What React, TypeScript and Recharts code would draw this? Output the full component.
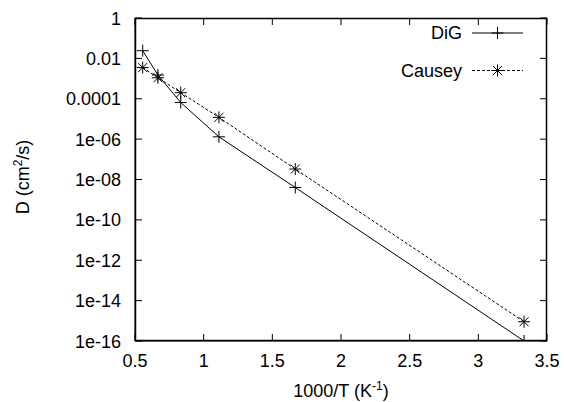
import React from "react";
import { LineChart, Line, XAxis, YAxis } from "recharts";

// 1000/T values (K^-1)
const invT = [0.556, 0.667, 0.833, 1.111, 1.667, 3.333];
// diffusivity, cm^2/s
const digD = [0.024, 1.5e-3, 6.5e-5, 1.3e-6, 4e-9, 1e-16];
const causeyD = [3.5e-3, 1.1e-3, 2e-4, 1.2e-5, 3.3e-8, 9e-16];

const xTicks = [0.5, 1, 1.5, 2, 2.5, 3, 3.5];
const yTicks = [1, 0.1, 0.01, 0.001, 0.0001, 1e-5, 1e-6, 1e-7, 1e-8, 1e-9, 1e-10, 1e-11, 1e-12, 1e-13, 1e-14, 1e-15, 1e-16];
const yTickLabels = ["1", "", "0.01", "", "0.0001", "", "1e-06", "", "1e-08", "", "1e-10", "", "1e-12", "", "1e-14", "", "1e-16"];

const data = invT.map((x, i) => ({ x, dig: digD[i], causey: causeyD[i] }));

const FONT = '"Liberation Sans", Arial, Helvetica, sans-serif';
const INK = "#000";
const FS = 18;

// chart geometry
const W = 564;
const H = 402;
const M = { top: 18, right: 17, left: 0, bottom: 0 };
const Y_AXIS_W = 135;
const X_AXIS_H = 61;
const PLOT_W = W - M.left - M.right - Y_AXIS_W;
const PLOT_H = H - M.top - M.bottom - X_AXIS_H;

const labelFor = (v: number) => {
  const i = yTicks.findIndex((t) => Math.abs(Math.log10(t) - Math.log10(v)) < 1e-6);
  return i >= 0 ? yTickLabels[i] : "";
};

// bottom tick: inward tick, mirrored tick on the top border, label
const BottomTick = (props: any) => {
  const { x, y, payload } = props;
  return (
    <g>
      <line x1={x} y1={y} x2={x} y2={y - 7} stroke={INK} strokeWidth={1} />
      <line x1={x} y1={y - PLOT_H} x2={x} y2={y - PLOT_H + 7} stroke={INK} strokeWidth={1} />
      <text x={x} y={y + 26} textAnchor="middle" fontSize={FS} fontFamily={FONT} fill="#000">
        {payload.value}
      </text>
    </g>
  );
};

// left tick: inward tick, mirrored tick on the right border, label
const LeftTick = (props: any) => {
  const { x, y, payload } = props;
  const lab = labelFor(payload.value);
  const len = lab ? 7 : 4;
  return (
    <g>
      <line x1={x} y1={y} x2={x + len} y2={y} stroke={INK} strokeWidth={1} />
      <line x1={x + PLOT_W} y1={y} x2={x + PLOT_W - len} y2={y} stroke={INK} strokeWidth={1} />
      {lab && (
        <text x={x - 14} y={y + 6.5} textAnchor="end" fontSize={FS} fontFamily={FONT} fill="#000">
          {lab}
        </text>
      )}
    </g>
  );
};

const PlusDot = (props: any) => {
  const { cx, cy } = props;
  if (cx == null || cy == null) return null;
  const s = 6;
  return (
    <g stroke={INK} strokeWidth={1}>
      <line x1={cx - s} y1={cy} x2={cx + s} y2={cy} />
      <line x1={cx} y1={cy - s} x2={cx} y2={cy + s} />
    </g>
  );
};

const StarDot = (props: any) => {
  const { cx, cy } = props;
  if (cx == null || cy == null) return null;
  const s = 6;
  const d = 4.5;
  return (
    <g stroke={INK} strokeWidth={1}>
      <line x1={cx - s} y1={cy} x2={cx + s} y2={cy} />
      <line x1={cx} y1={cy - s} x2={cx} y2={cy + s} />
      <line x1={cx - d} y1={cy - d} x2={cx + d} y2={cy + d} />
      <line x1={cx - d} y1={cy + d} x2={cx + d} y2={cy - d} />
    </g>
  );
};

const YLabel = () => {
  const cx = 29;
  const cy = 177;
  return (
    <text
      x={cx}
      y={cy}
      transform={`rotate(-90 ${cx} ${cy})`}
      textAnchor="middle"
      fontSize={FS}
      fontFamily={FONT}
      fill="#000"
    >
      D (cm
      <tspan dy={-7} fontSize={12}>2</tspan>
      <tspan dy={7}>/s)</tspan>
    </text>
  );
};

const XLabel = () => (
  <text x={341} y={397} textAnchor="middle" fontSize={FS} fontFamily={FONT} fill="#000">
    1000/T (K
    <tspan dy={-7} fontSize={12}>-1</tspan>
    <tspan dy={7}>)</tspan>
  </text>
);

export default function App() {
  const px = M.left + Y_AXIS_W;
  const py = M.top;
  return (
    <div style={{ position: "absolute", left: 0, top: 0, width: W, height: H, background: "#fff" }}>
      <LineChart width={W} height={H} data={data} margin={M}>
        <XAxis
          dataKey="x"
          type="number"
          domain={[0.5, 3.5]}
          ticks={xTicks}
          height={X_AXIS_H}
          tickSize={0}
          tickMargin={0}
          tickLine={false}
          axisLine={{ stroke: INK }}
          tick={<BottomTick />}
          label={<XLabel />}
          allowDataOverflow
        />
        <YAxis
          scale="log"
          type="number"
          domain={[1e-16, 1]}
          ticks={yTicks}
          width={Y_AXIS_W}
          tickSize={0}
          tickMargin={0}
          tickLine={false}
          axisLine={{ stroke: INK }}
          tick={<LeftTick />}
          label={<YLabel />}
          allowDataOverflow
        />
        <Line
          dataKey="dig"
          name="DiG"
          stroke={INK}
          strokeWidth={1}
          dot={<PlusDot />}
          activeDot={false}
          isAnimationActive={false}
        />
        <Line
          dataKey="causey"
          name="Causey"
          stroke={INK}
          strokeWidth={1}
          strokeDasharray="3 2"
          dot={<StarDot />}
          activeDot={false}
          isAnimationActive={false}
        />
      </LineChart>
      <svg width={W} height={H} style={{ position: "absolute", left: 0, top: 0, pointerEvents: "none" }}>
        {/* plot frame */}
        <rect
          x={px + 0.5}
          y={py + 0.5}
          width={PLOT_W - 1}
          height={PLOT_H - 1}
          fill="none"
          stroke={INK}
          strokeWidth={1.5}
        />
        <text x={462} y={39} textAnchor="end" fontSize={FS} fontFamily={FONT} fill="#000">DiG</text>
        <line x1={472} y1={33} x2={523} y2={33} stroke={INK} strokeWidth={1} />
        <PlusDot cx={497.5} cy={33} />
        <text x={462} y={77} textAnchor="end" fontSize={FS} fontFamily={FONT} fill="#000">Causey</text>
        <line x1={472} y1={70.5} x2={523} y2={70.5} stroke={INK} strokeWidth={1} strokeDasharray="3 2" />
        <StarDot cx={497.5} cy={70.5} />
      </svg>
    </div>
  );
}
